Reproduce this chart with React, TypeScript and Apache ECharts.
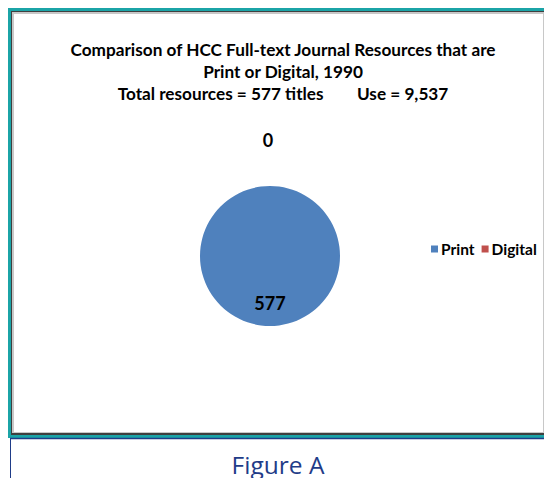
import React, { useEffect, useRef } from "react";
import * as echarts from "echarts";

const categories = ["Print", "Digital"];
const values = [577, 0];
const colors = ["#4F81BD", "#C0504D"];
const titleLines = [
  "Comparison of HCC Full-text Journal Resources that are",
  "Print or Digital, 1990",
  "Total resources = 577 titles        Use = 9,537",
];
const captionText = "Figure A";

export default function App() {
  const ref = useRef<HTMLDivElement>(null);
  useEffect(() => {
    if (!ref.current) return;
    const chart = echarts.init(ref.current, null, { renderer: "svg" });
    chart.setOption({
      animation: false,
      backgroundColor: "#ffffff",
      title: {
        text: titleLines.join("\n"),
        left: 278,
        textAlign: "center",
        top: 33,
        textStyle: {
          fontFamily: "Lato",
          fontWeight: "bold",
          fontSize: 17.2,
          lineHeight: 22,
          color: "#000000",
        },
      },
      legend: {
        data: categories,
        orient: "horizontal",
        left: 426,
        top: 236,
        icon: "rect",
        itemWidth: 7,
        itemHeight: 7,
        itemGap: 7,
        textStyle: {
          fontFamily: "Lato",
          fontWeight: "bold",
          fontSize: 15.5,
          color: "#000000",
          padding: [0, 0, 0, -2],
        },
        z: 10,
      },
      graphic: [
        { type: "rect", shape: { x: 8, y: 8, width: 560, height: 430 }, style: { fill: "#1BA4A7" }, z: -10, silent: true },
        { type: "rect", shape: { x: 11, y: 11, width: 560, height: 424 }, style: { fill: "#3f3f3f" }, z: -9, silent: true },
        { type: "rect", shape: { x: 12, y: 12, width: 560, height: 421 }, style: { fill: "#c8c8c8" }, z: -8, silent: true },
        { type: "rect", shape: { x: 14, y: 14, width: 529, height: 418 }, style: { fill: "#ffffff" }, z: -7, silent: true },
        { type: "line", shape: { x1: 10, y1: 438.5, x2: 544, y2: 438.5 }, style: { stroke: "#1F3C88", lineWidth: 1.5 }, z: -6, silent: true },
        { type: "line", shape: { x1: 10.5, y1: 438, x2: 10.5, y2: 478 }, style: { stroke: "#1F3C88", lineWidth: 1 }, z: -6, silent: true },
        {
          type: "text",
          x: 278,
          y: 464,
          style: {
            text: captionText,
            fontFamily: "Open Sans",
            fontSize: 24.5,
            fill: "#1F3C88",
            align: "center",
            verticalAlign: "middle",
          },
          silent: true,
        },
      ],
      series: [
        {
          type: "pie",
          center: [270, 256],
          radius: [0, 70],
          startAngle: 90,
          clockwise: true,
          itemStyle: { borderWidth: 0 },
          label: {
            fontFamily: "Lato",
            fontWeight: "bold",
            fontSize: 18,
            color: "#000000",
            formatter: "{c}",
          },
          labelLine: { show: false },
          labelLayout: (params: any) =>
            params.dataIndex === 0
              ? { dy: 9 }
              : { align: "center", dy: -6, dx: 3 },
          data: categories.map((name, i) => ({
            name,
            value: values[i],
            itemStyle: { color: colors[i] },
            label: i === 0 ? { position: "inside" } : { position: "outside" },
            labelLine: i === 0 ? { show: false } : { show: false, length: 40, length2: 0 },
          })),
        },
      ],
    });
    return () => chart.dispose();
  }, []);
  return (
    <div
      ref={ref}
      style={{ position: "absolute", left: 0, top: 0, width: 544, height: 478 }}
    />
  );
}
